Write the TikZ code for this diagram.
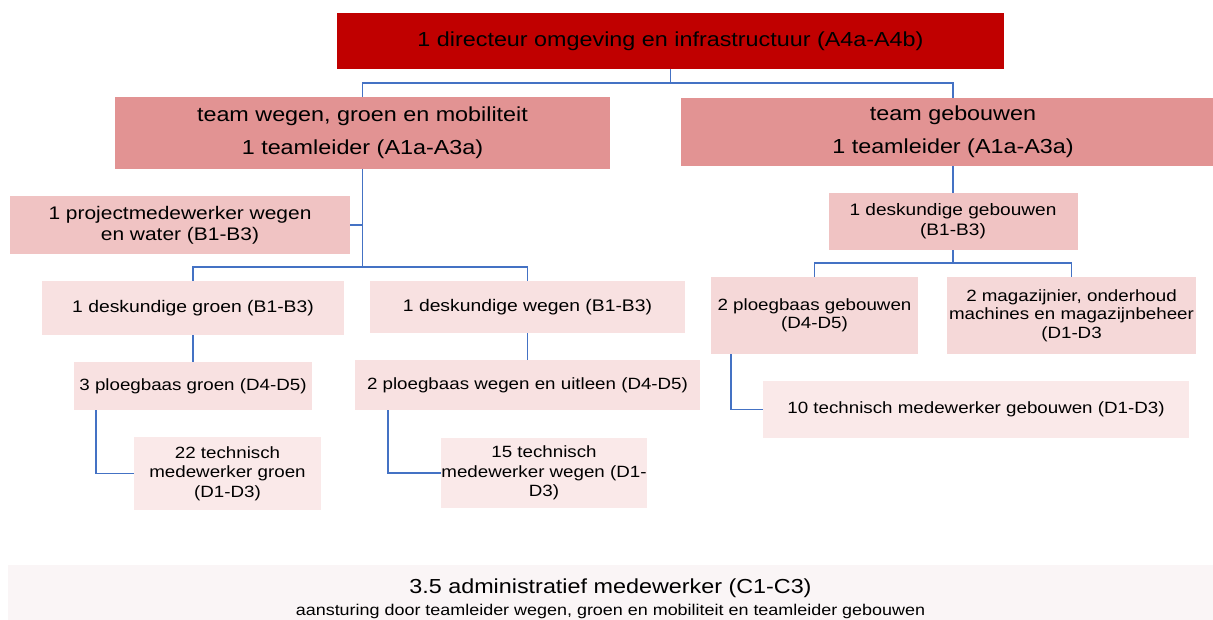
\documentclass[tikz,border=0pt]{standalone}
\usepackage{fontspec}
\setmainfont[FakeStretch=1.15]{Liberation Sans}
\definecolor{dirred}{RGB}{192,0,0}
\definecolor{teamrose}{RGB}{226,147,147}
\definecolor{midrose}{RGB}{240,195,195}
\definecolor{lightrose}{RGB}{248,225,225}
\definecolor{techrose}{RGB}{250,233,233}
\definecolor{storerose}{RGB}{245,216,216}
\definecolor{adminrose}{RGB}{250,245,246}
\definecolor{linkblue}{RGB}{68,114,196}
\tikzset{%
  chart/.style = {rectangle, inner sep=0pt, align=center, text=black},
  director/.style = {chart, fill=dirred, font=\fontsize{20.3}{24}\selectfont},
  team/.style = {chart, fill=teamrose, font=\fontsize{20.3}{33}\selectfont},
  expert/.style = {chart, fill=midrose},
  unit/.style = {chart, fill=lightrose, font=\fontsize{16.8}{20}\selectfont},
  crew/.style = {chart, fill=lightrose, font=\fontsize{16.3}{19.5}\selectfont},
  store/.style = {chart, fill=storerose, font=\fontsize{16.3}{18.5}\selectfont},
  link/.style = {draw=linkblue, line width=1.6pt},
  admin/.style = {fill=adminrose}
  }

\begin{document}
\begin{tikzpicture}[x=1pt, y=-1pt]
    \useasboundingbox (0,0) rectangle (1213,619);

    \node (dir)        [director, minimum width=667pt, minimum height=56pt] at (670.5,41)  {1 directeur omgeving en infrastructuur (A4a-A4b)};
    \node (teamW)      [team, minimum width=495pt, minimum height=72pt]     at (362.5,133) {team wegen, groen en mobiliteit\\1 teamleider (A1a-A3a)};
    \node (teamG)      [team, minimum width=544pt, minimum height=68pt]     at (953,132)   {team gebouwen\\1 teamleider (A1a-A3a)};
    \node (projMed)    [expert, font=\fontsize{18.2}{21}\selectfont,
                        minimum width=340pt, minimum height=58pt]           at (180,225)   {1 projectmedewerker wegen\\en water (B1-B3)};
    \node (deskGeb)    [expert, font=\fontsize{16.6}{20}\selectfont,
                        minimum width=249pt, minimum height=57pt]           at (953,221.5) {1 deskundige gebouwen\\(B1-B3)};
    \node (deskGroen)  [unit, minimum width=302pt, minimum height=54pt]     at (193,308)   {1 deskundige groen (B1-B3)};
    \node (deskWegen)  [unit, minimum width=315pt, minimum height=52pt]     at (527.5,307) {1 deskundige wegen (B1-B3)};
    \node (ploegGroen) [crew, minimum width=238pt, minimum height=48pt]     at (193,386)   {3 ploegbaas groen (D4-D5)};
    \node (ploegWegen) [crew, minimum width=345pt, minimum height=50pt]     at (527.5,385) {2 ploegbaas wegen en uitleen (D4-D5)};
    \node (techGroen)  [crew, fill=techrose, minimum width=187pt, minimum height=73pt] at (227.5,473.5) {22 technisch\\medewerker groen\\(D1-D3)};
    \node (techWegen)  [crew, fill=techrose, minimum width=204pt, minimum height=70pt] at (544,473)     {15 technisch\\medewerker wegen (D1-\\D3)};
    \node (ploegGeb)   [store, minimum width=207pt, minimum height=77pt]    at (814.5,315.5)  {2 ploegbaas gebouwen\\(D4-D5)};
    \node (magazijn)   [store, minimum width=249pt, minimum height=77pt]    at (1071.5,315.5) {2 magazijnier, onderhoud\\machines en magazijnbeheer\\(D1-D3};
    \node (techGeb)    [crew, fill=techrose, minimum width=426pt, minimum height=57pt] at (976,409.5) {10 technisch medewerker gebouwen (D1-D3)};

    % administratie onderaan
    \path[admin] (8,565) rectangle (1214,620);
    \node (adminTxt)   [chart, font=\fontsize{20.3}{22}\selectfont] at (610.5,598.5)
        {3.5 administratief medewerker (C1-C3)\\{\fontsize{15.6}{19}\selectfont aansturing door teamleider wegen, groen en mobiliteit en teamleider gebouwen}};

    \draw[link] (dir.south) -- ++(0,14) coordinate (topSplit);
    \draw[link] (topSplit) -| (teamW.north);
    \draw[link] (topSplit) -| (teamG.north);

    \draw[link] (teamW.south) -- ++(0,98) coordinate (wSplit);
    \draw[link] (wSplit) -| (deskGroen.north);
    \draw[link] (wSplit) -| (deskWegen.north);
    \draw[link] (projMed.east) -- (projMed.east -| teamW.south);
    \draw[link] (deskGroen) -- (ploegGroen);
    \draw[link] (deskWegen) -- (ploegWegen);
    \draw[link] (ploegGroen.south west) ++(22,0) |- (techGroen.west);
    \draw[link] (ploegWegen.south west) ++(33,0) |- (techWegen.west);

    \draw[link] (teamG) -- (deskGeb);
    \draw[link] (deskGeb.south) -- ++(0,13) coordinate (gSplit);
    \draw[link] (gSplit) -| (ploegGeb.north);
    \draw[link] (gSplit) -| (magazijn.north);
    \draw[link] (ploegGeb.south west) ++(20,0) |- (techGeb.west);
  \end{tikzpicture}
\end{document}
